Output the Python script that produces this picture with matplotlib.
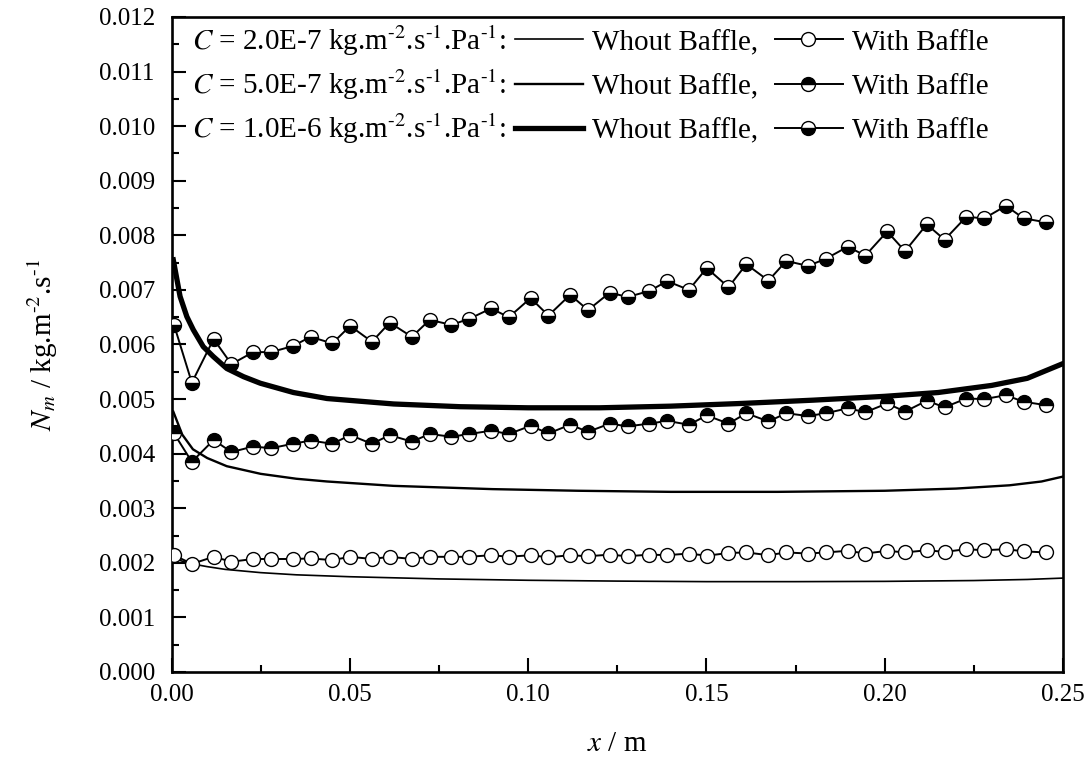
import matplotlib
matplotlib.use("Agg")
import matplotlib.pyplot as plt
import numpy as np
from matplotlib.lines import Line2D
from matplotlib.ticker import FormatStrFormatter, MultipleLocator

# marker positions along the channel (m), with baffle
x_baffle = [
    0.0007, 0.0057, 0.0118, 0.0168, 0.0229, 0.0279, 0.0340, 0.0390, 0.0451,
    0.0501, 0.0562, 0.0612, 0.0674, 0.0724, 0.0785, 0.0835, 0.0896, 0.0946,
    0.1007, 0.1057, 0.1118, 0.1168, 0.1229, 0.1279, 0.1340, 0.1390, 0.1451,
    0.1501, 0.1562, 0.1612, 0.1674, 0.1724, 0.1785, 0.1835, 0.1896, 0.1946,
    0.2007, 0.2057, 0.2118, 0.2168, 0.2229, 0.2279, 0.2340, 0.2390, 0.2451,
]

# N_m in 1e-3 kg.m-2.s-1, with baffle
nm_low_baffle = [
    2.14, 1.98, 2.11, 2.02, 2.07, 2.07, 2.07, 2.08, 2.05, 2.11, 2.07, 2.11,
    2.07, 2.11, 2.11, 2.11, 2.14, 2.11, 2.14, 2.10, 2.14, 2.12, 2.15, 2.12,
    2.15, 2.14, 2.17, 2.13, 2.18, 2.19, 2.14, 2.19, 2.17, 2.19, 2.22, 2.17,
    2.22, 2.19, 2.23, 2.20, 2.25, 2.23, 2.25, 2.21, 2.19,
]
nm_mid_baffle = [
    4.37, 3.85, 4.25, 4.03, 4.13, 4.10, 4.18, 4.24, 4.18, 4.34, 4.18, 4.34,
    4.22, 4.36, 4.31, 4.36, 4.42, 4.36, 4.51, 4.37, 4.53, 4.40, 4.55, 4.50,
    4.55, 4.60, 4.53, 4.70, 4.55, 4.74, 4.59, 4.74, 4.69, 4.74, 4.83, 4.76,
    4.92, 4.77, 4.97, 4.85, 5.01, 5.00, 5.07, 4.95, 4.89,
]
nm_high_baffle = [
    6.36, 5.30, 6.10, 5.64, 5.86, 5.86, 5.97, 6.14, 6.02, 6.34, 6.05, 6.40,
    6.14, 6.45, 6.36, 6.47, 6.66, 6.50, 6.85, 6.53, 6.91, 6.63, 6.95, 6.87,
    6.98, 7.16, 7.00, 7.40, 7.05, 7.47, 7.17, 7.53, 7.44, 7.57, 7.79, 7.63,
    8.07, 7.71, 8.20, 7.92, 8.34, 8.31, 8.54, 8.31, 8.24,
]

# without baffle
x_low_plain = [0.0005, 0.005, 0.01, 0.015, 0.025, 0.035, 0.05, 0.075, 0.1,
               0.125, 0.15, 0.175, 0.2, 0.225, 0.24, 0.25]
nm_low_plain = [2.08, 1.99, 1.93, 1.88, 1.82, 1.78, 1.745, 1.705, 1.68,
                1.665, 1.655, 1.655, 1.66, 1.675, 1.695, 1.72]

x_mid_plain = [0.0005, 0.003, 0.006, 0.01, 0.0155, 0.025, 0.035, 0.0436,
               0.0622, 0.09, 0.114, 0.14, 0.17, 0.2, 0.22, 0.235, 0.244, 0.25]
nm_mid_plain = [4.77, 4.35, 4.08, 3.92, 3.77, 3.63, 3.54, 3.49, 3.41, 3.35,
                3.32, 3.30, 3.30, 3.32, 3.36, 3.42, 3.49, 3.58]

x_high_plain = [0.0005, 0.0024, 0.0043, 0.0061, 0.0089, 0.0117, 0.0155,
                0.0202, 0.0249, 0.0342, 0.0436, 0.0623, 0.081, 0.10, 0.12,
                0.14, 0.16, 0.18, 0.2, 0.215, 0.23, 0.24, 0.25]
nm_high_plain = [7.55, 6.88, 6.51, 6.27, 5.96, 5.78, 5.56, 5.41, 5.29, 5.12,
                 5.01, 4.91, 4.86, 4.84, 4.84, 4.87, 4.92, 4.98, 5.05, 5.12,
                 5.25, 5.38, 5.65]

c_labels = [
    r"$C$ = 2.0E-7 kg.m$^{\text{-2}}$.s$^{\text{-1}}$.Pa$^{\text{-1}}$:",
    r"$C$ = 5.0E-7 kg.m$^{\text{-2}}$.s$^{\text{-1}}$.Pa$^{\text{-1}}$:",
    r"$C$ = 1.0E-6 kg.m$^{\text{-2}}$.s$^{\text{-1}}$.Pa$^{\text{-1}}$:",
]

plt.rcParams["font.family"] = ["Liberation Serif", "DejaVu Serif"]
plt.rcParams["mathtext.fontset"] = "stix"

plain_widths = [1.2, 1.7, 3.8]
marker_kw = [
    dict(marker="o", markerfacecolor="white", fillstyle="full"),
    dict(marker="o", markerfacecolor="black", markerfacecoloralt="white",
         fillstyle="top"),
    dict(marker="o", markerfacecolor="black", markerfacecoloralt="white",
         fillstyle="bottom"),
]
common_marker = dict(color="black", markersize=10, markeredgecolor="black",
                     markeredgewidth=1.0, linewidth=1.4)

fig = plt.figure(figsize=(10.89, 7.65), dpi=100)
ax = fig.add_axes([0.1575, 0.1216, 0.8186, 0.8562])

plain = [(x_low_plain, nm_low_plain), (x_mid_plain, nm_mid_plain),
         (x_high_plain, nm_high_plain)]
baffle = [nm_low_baffle, nm_mid_baffle, nm_high_baffle]

for (xp, yp), lw in zip(plain, plain_widths):
    ax.plot(xp, np.array(yp) * 1e-3, color="black", linewidth=lw, zorder=2)

for yb, mk in zip(baffle, marker_kw):
    ax.plot(x_baffle, np.array(yb) * 1e-3, zorder=3, **mk, **common_marker)

ax.set_xlim(0, 0.25)
ax.set_ylim(0, 0.012)
ax.xaxis.set_major_locator(MultipleLocator(0.05))
ax.xaxis.set_minor_locator(MultipleLocator(0.025))
ax.yaxis.set_major_locator(MultipleLocator(0.001))
ax.yaxis.set_minor_locator(MultipleLocator(0.0005))
ax.xaxis.set_major_formatter(FormatStrFormatter("%.2f"))
ax.yaxis.set_major_formatter(FormatStrFormatter("%.3f"))
ax.tick_params(which="both", direction="in", width=1.5, labelsize=18)
ax.tick_params(which="major", length=10)
ax.tick_params(which="minor", length=5)
ax.tick_params(axis="x", pad=9)
ax.tick_params(axis="y", pad=12)
for spine in ax.spines.values():
    spine.set_linewidth(1.9)

ax.set_xlabel(r"$x$ / m", fontsize=21)
ax.set_ylabel(r"$N_m$ / kg.m$^{\text{-2}}$.s$^{\text{-1}}$", fontsize=21)
ax.xaxis.set_label_coords(0.5, -0.09)
ax.yaxis.set_label_coords(-0.125, 0.5)

# hand-built legend, three rows
row_line_y = [0.966, 0.8977, 0.830]
row_base_y = [0.9496, 0.882, 0.8148]
for i in range(3):
    ax.text(0.023, row_base_y[i], c_labels[i], transform=ax.transAxes,
            fontsize=21, va="baseline", ha="left")
    ax.add_line(Line2D([0.385, 0.4616], [row_line_y[i]] * 2,
                       transform=ax.transAxes, color="black",
                       linewidth=plain_widths[i]))
    ax.text(0.4717, row_base_y[i], "Whout Baffle,", transform=ax.transAxes,
            fontsize=21, va="baseline", ha="left")
    ax.add_line(Line2D([0.677, 0.714, 0.753], [row_line_y[i]] * 3,
                       transform=ax.transAxes, markevery=[1],
                       **marker_kw[i], **common_marker))
    ax.text(0.763, row_base_y[i], "With Baffle", transform=ax.transAxes,
            fontsize=21, va="baseline", ha="left")

fig.savefig("out.png", dpi=100, facecolor="white")
